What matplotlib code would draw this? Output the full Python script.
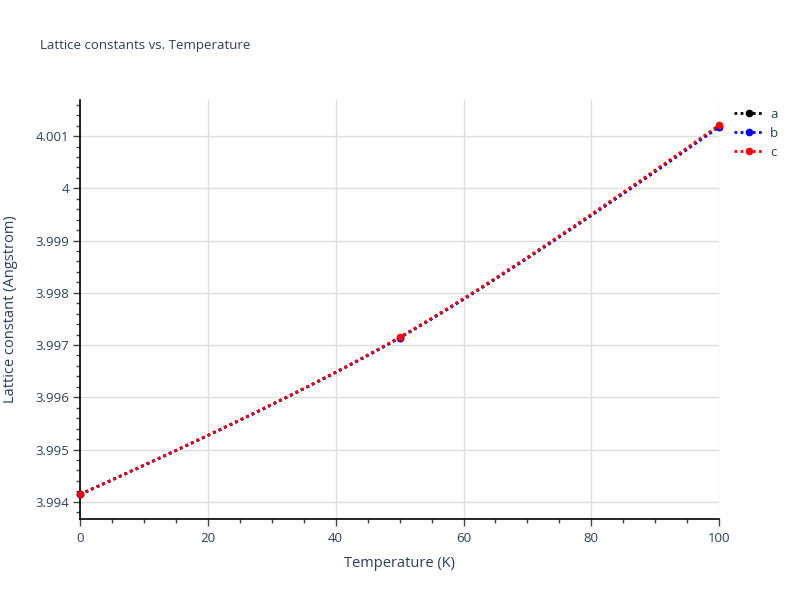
import numpy as np
import matplotlib.pyplot as plt
from matplotlib.ticker import MultipleLocator, FuncFormatter

plt.rcParams['font.family'] = ['Open Sans', 'DejaVu Sans']

temps = [0, 50, 100]
a_vals = [3.99414, 3.99714, 4.00118]
b_vals = [3.99414, 3.99714, 4.00118]
c_vals = [3.99414, 3.99715, 4.00121]

series = [('a', a_vals, 'black'), ('b', b_vals, 'blue'), ('c', c_vals, 'red')]
txt = '#2a3f5f'

# approx pixel scale of the plot area, used for spline shape
PX_X = 639.0 / 100
PX_Y = 52.3 / 0.001


def spline3(xv, yv, n=100):
    # plotly-style 'spline' through three points (two quadratic beziers)
    p = np.column_stack([np.array(xv) * PX_X, np.array(yv) * PX_Y])
    d1 = p[0] - p[1]
    d2 = p[2] - p[1]
    d1a = np.hypot(*d1) ** 0.5
    d2a = np.hypot(*d2) ** 0.5
    num = d2a * d2a * d1 - d1a * d1a * d2
    c1 = p[1] + num / (3 * d2a * (d1a + d2a))
    c2 = p[1] - num / (3 * d1a * (d1a + d2a))
    t = np.linspace(0, 1, n)[:, None]
    s1 = (1 - t) ** 2 * p[0] + 2 * (1 - t) * t * c1 + t ** 2 * p[1]
    s2 = (1 - t) ** 2 * p[1] + 2 * (1 - t) * t * c2 + t ** 2 * p[2]
    pts = np.vstack([s1, s2[1:]])
    return pts[:, 0] / PX_X, pts[:, 1] / PX_Y


fig = plt.figure(figsize=(8, 6), dpi=100)
ax = fig.add_axes([0.1, 0.135, 0.799, 0.6983])

dot = (0, (1, 1.2))
for name, vals, col in series:
    sx, sy = spline3(temps, vals)
    ax.plot(sx, sy, color=col, lw=2, ls=dot, zorder=3)
    ax.plot(temps, vals, 'o', color=col, ms=4.5, zorder=4, clip_on=False)
    ax.plot([], [], color=col, lw=2, ls=dot, marker='o', ms=4.5, label=name)

ax.set_xlim(0, 100)
ax.set_ylim(3.99367, 4.00169)
ax.xaxis.set_major_locator(MultipleLocator(20))
ax.xaxis.set_minor_locator(MultipleLocator(5))
ax.yaxis.set_major_locator(MultipleLocator(0.001))
ax.yaxis.set_minor_locator(MultipleLocator(0.0002))
ax.yaxis.set_major_formatter(FuncFormatter(lambda v, p: ('%.3f' % v).rstrip('0').rstrip('.')))

ax.grid(True, which='major', color='#dddddd', lw=1)
ax.set_axisbelow(True)
for s in ['top', 'right']:
    ax.spines[s].set_visible(False)
for s in ['left', 'bottom']:
    ax.spines[s].set_color('black')
    ax.spines[s].set_linewidth(1.2)

ax.tick_params(which='major', length=5, width=1, color='#444444', labelsize=9.5, labelcolor=txt, pad=3)
ax.tick_params(which='minor', length=3, width=1, color='#444444')
ax.tick_params(axis='x', pad=4)

ax.set_xlabel('Temperature (K)', fontsize=10.5, color=txt, labelpad=8)
ax.set_ylabel('Lattice constant (Angstrom)', fontsize=10.5, color=txt, labelpad=12)
fig.text(0.05, 0.925, 'Lattice constants vs. Temperature', fontsize=9.5, color=txt, va='center')

ax.legend(loc='upper left', bbox_to_anchor=(1.005, 1.01), frameon=False, fontsize=9.5,
          labelcolor=txt, handlelength=2.2, handletextpad=0.5, labelspacing=0.45)

fig.savefig('out.png', dpi=100)
